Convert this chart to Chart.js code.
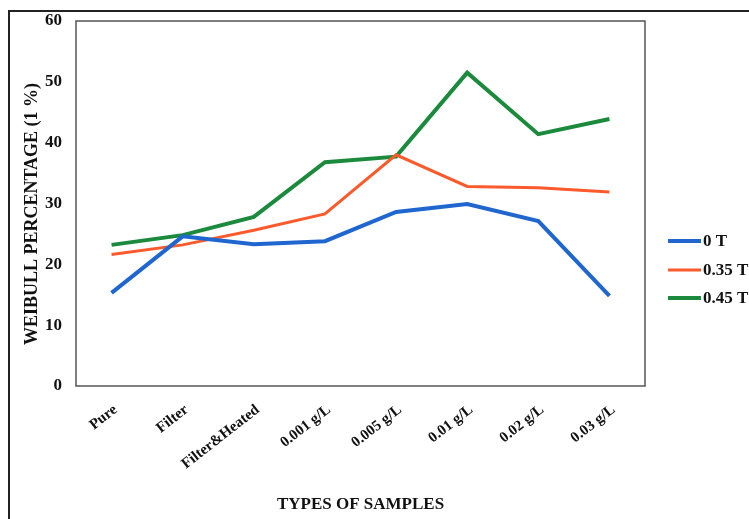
<!DOCTYPE html>
<html>
<head>
<meta charset="utf-8">
<script src="https://cdn.jsdelivr.net/npm/chart.js@4/dist/chart.umd.min.js"></script>
<style>
html,body{margin:0;padding:0;background:#fff;}
#wrap{width:749px;height:519px;}
</style>
</head>
<body>
<div id="wrap"><canvas id="c" width="749" height="519"></canvas></div>
<script>
const categories = ["Pure", "Filter", "Filter&Heated", "0.001 g/L", "0.005 g/L", "0.01 g/L", "0.02 g/L", "0.03 g/L"];
const series0T = [15.3, 24.6, 23.3, 23.8, 28.6, 29.9, 27.1, 14.8];
const series035T = [21.6, 23.2, 25.6, 28.3, 38.0, 32.8, 32.6, 31.9];
const series045T = [23.2, 24.8, 27.8, 36.8, 37.7, 51.5, 41.4, 43.9];
const seriesLabels = ["0 T", "0.35 T", "0.45 T"];
const yTicks = [0, 10, 20, 30, 40, 50, 60];

const FONT = "'Liberation Serif', 'Times New Roman', serif";

const framePlugin = {
  id: 'frame',
  afterDraw(chart) {
    const ctx = chart.ctx;
    const a = chart.chartArea;
    ctx.save();
    ctx.strokeStyle = '#555';
    ctx.lineWidth = 1.5;
    ctx.strokeRect(a.left, a.top, a.right - a.left, a.bottom - a.top);
    ctx.strokeStyle = '#222';
    ctx.lineWidth = 2;
    ctx.strokeRect(9, 11, 780, 560);
    ctx.fillStyle = '#111';
    ctx.font = "bold 18px " + FONT;
    ctx.textAlign = 'center';
    ctx.textBaseline = 'middle';
    ctx.translate(32, 214);
    ctx.rotate(-Math.PI / 2);
    ctx.fillText("WEIBULL PERCENTAGE (1 %)", 0, 0);
    ctx.restore();
    ctx.save();
    const rows = [241, 270, 298];
    chart.data.datasets.forEach((ds, i) => {
      const y = rows[i];
      ctx.strokeStyle = ds.borderColor;
      ctx.lineWidth = ds.borderWidth;
      ctx.beginPath();
      ctx.moveTo(668, y);
      ctx.lineTo(701, y);
      ctx.stroke();
      ctx.fillStyle = '#111';
      ctx.font = "bold 17px " + FONT;
      ctx.textAlign = 'left';
      ctx.textBaseline = 'middle';
      ctx.fillText(ds.label, 703, y + 1);
    });
    ctx.restore();
  }
};

new Chart(document.getElementById('c'), {
  type: 'line',
  data: {
    labels: categories,
    datasets: [
      { label: seriesLabels[0], data: series0T, borderColor: '#1f66cf', borderWidth: 4 },
      { label: seriesLabels[1], data: series035T, borderColor: '#fb5a2c', borderWidth: 3 },
      { label: seriesLabels[2], data: series045T, borderColor: '#1b8a3c', borderWidth: 4 }
    ]
  },
  options: {
    responsive: false,
    animation: false,
    devicePixelRatio: 1,
    layout: { padding: { left: 0, top: 21, right: 104, bottom: 0 } },
    elements: { point: { radius: 0 }, line: { tension: 0 } },
    plugins: { legend: { display: false }, tooltip: { enabled: false } },
    scales: {
      x: {
        offset: true,
        grid: { display: false },
        border: { display: false },
        ticks: {
          color: '#111',
          font: { family: FONT, size: 15, weight: 'bold' },
          minRotation: 38,
          maxRotation: 38,
          padding: 7,
          labelOffset: 4
        },
        title: {
          display: true,
          text: 'TYPES OF SAMPLES',
          color: '#111',
          font: { family: FONT, size: 17, weight: 'bold' },
          padding: { top: 0, bottom: 4 }
        },
        afterFit(scale) { scale.height = 519 - 386; }
      },
      y: {
        min: 0,
        max: 60,
        grid: { display: false },
        border: { display: false },
        afterBuildTicks(scale) { scale.ticks = yTicks.map(v => ({ value: v })); },
        ticks: {
          color: '#111',
          font: { family: FONT, size: 17, weight: 'bold' },
          padding: 6
        },
        afterFit(scale) { scale.width = 76; }
      }
    }
  },
  plugins: [framePlugin]
});
</script>
</body>
</html>
